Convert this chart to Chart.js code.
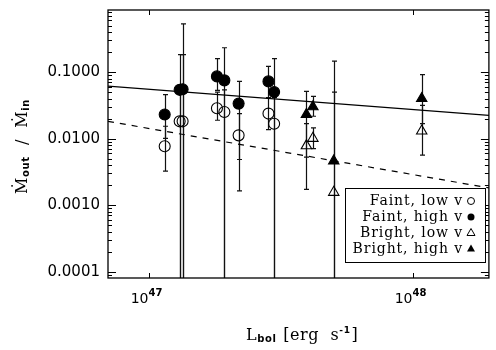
<!DOCTYPE html>
<html>
<head>
<meta charset="utf-8">
<script src="https://cdn.jsdelivr.net/npm/chart.js@4/dist/chart.umd.min.js"></script>
<style>
  html, body { margin: 0; padding: 0; background: #fff; }
</style>
</head>
<body>
<canvas id="chart" width="496" height="350"></canvas>
<script>
// axis ranges and ticks
const xRange = [7.03e46, 1.93e48];
const yRange = [8.05e-5, 0.857];
const xTicks = [1e47, 1e48];
const yTicks = [0.0001, 0.001, 0.01, 0.1];

// faint sources
const faintLum = [1.151e47, 1.311e47, 1.345e47, 1.813e47, 1.934e47, 2.189e47, 2.838e47, 2.981e47];
const faintHighV = [0.0230, 0.0541, 0.0552, 0.0862, 0.0751, 0.0336, 0.0725, 0.0501];
const faintHighHi = [0.0458, 0.1824, 0.5316, 0.1588, 0.2323, 0.0725, 0.1218, 0.1588];
const faintHighLo = [0.0101, 1e-6, 1e-6, 0.0532, 1e-6, 0.00486, 0.0413, 1e-6];
const faintLowV = [0.00769, 0.0182, 0.0182, 0.0286, 0.0251, 0.0112, 0.0238, 0.0167];
const faintLowHi = [0.01535, 0.0541, 0.1824, 0.0500, 0.0541, 0.0238, 0.0413, 0.0413];
const faintLowLo = [0.00325, 1e-6, 1e-6, 0.0189, 1e-6, 0.00164, 0.0137, 1e-6];

// bright sources
const brightLum = [3.948e47, 4.176e47, 5.007e47, 1.076e48];
const brightHighV = [0.0231, 0.0301, 0.00462, 0.0401];
const brightHighHi = [0.0514, 0.0432, 0.1463, 0.0914];
const brightHighLo = [0.00526, 0.0217, 1e-6, 0.0168];
const brightLowV = [0.00783, 0.0101, 0.00156, 0.0130];
const brightLowHi = [0.0168, 0.01447, 0.0501, 0.0317];
const brightLowLo = [0.001726, 0.0071, 1e-6, 0.00564];

// fitted relations
const fitLum = [7.03e46, 1.93e48];
const fitHigh = [0.0617, 0.02243];
const fitLow = [0.0182, 0.00182];

const legendLabels = ['Faint, low v', 'Faint, high v', 'Bright, low v', 'Bright, high v'];

function pts(xs, ys) {
    return xs.map((x, i) => ({x: x, y: ys[i]}));
}

function pointSet(xs, ys, lo, hi, style, filled, r) {
    return {
        data: pts(xs, ys),
        errLo: lo,
        errHi: hi,
        showLine: false,
        pointStyle: style,
        pointRadius: r,
        pointBorderWidth: 1.1,
        pointBorderColor: '#000',
        pointBackgroundColor: filled ? '#000' : 'rgba(0,0,0,0)'
    };
}

const serif = '"DejaVu Serif", "Liberation Serif", serif';
const sans = '"DejaVu Sans", sans-serif';

const errorBars = {
    id: 'errorBars',
    beforeDatasetsDraw(chart) {
        const ctx = chart.ctx, a = chart.chartArea;
        const xs = chart.scales.x, ys = chart.scales.y;
        ctx.save();
        ctx.beginPath();
        ctx.rect(a.left, a.top, a.right - a.left, a.bottom - a.top);
        ctx.clip();
        ctx.strokeStyle = '#111';
        ctx.lineWidth = 1.2;
        chart.data.datasets.forEach(ds => {
            if (!ds.errLo) return;
            ds.data.forEach((p, i) => {
                const px = Math.round(xs.getPixelForValue(p.x)) + 0.5;
                const top = ys.getPixelForValue(ds.errHi[i]);
                const bot = ys.getPixelForValue(ds.errLo[i]);
                ctx.beginPath();
                ctx.moveTo(px, top);
                ctx.lineTo(px, bot);
                ctx.moveTo(px - 2.5, top);
                ctx.lineTo(px + 2.5, top);
                ctx.moveTo(px - 2.5, bot);
                ctx.lineTo(px + 2.5, bot);
                ctx.stroke();
            });
        });
        ctx.restore();
    }
};

function drawMarker(ctx, kind, x, y) {
    ctx.beginPath();
    if (kind === 'circle') {
        ctx.arc(x, y, 3.5, 0, Math.PI * 2);
    } else {
        ctx.moveTo(x, y - 4.5);
        ctx.lineTo(x + 4, y + 2.5);
        ctx.lineTo(x - 4, y + 2.5);
        ctx.closePath();
    }
}

const decorations = {
    id: 'decorations',
    afterDraw(chart) {
        const ctx = chart.ctx, a = chart.chartArea;
        const xs = chart.scales.x, ys = chart.scales.y;
        ctx.save();
        ctx.strokeStyle = '#000';
        ctx.fillStyle = '#000';

        // frame
        ctx.lineWidth = 1.3;
        ctx.strokeRect(a.left, a.top, a.right - a.left, a.bottom - a.top);

        // y ticks, inward on both sides
        ctx.lineWidth = 1;
        const lo = Math.floor(Math.log10(yRange[0])), hi = Math.ceil(Math.log10(yRange[1]));
        for (let e = lo; e <= hi; e++) {
            for (let k = 1; k <= 9; k++) {
                const v = k * Math.pow(10, e);
                if (v < yRange[0] || v > yRange[1]) continue;
                const py = Math.round(ys.getPixelForValue(v)) + 0.5;
                const len = k === 1 ? 8 : 4;
                ctx.beginPath();
                ctx.moveTo(a.left, py); ctx.lineTo(a.left + len, py);
                ctx.moveTo(a.right, py); ctx.lineTo(a.right - len, py);
                ctx.stroke();
            }
        }

        // x ticks and labels
        xTicks.forEach(v => {
            const px = Math.round(xs.getPixelForValue(v)) + 0.5;
            ctx.beginPath();
            ctx.moveTo(px, a.bottom); ctx.lineTo(px, a.bottom - 5);
            ctx.moveTo(px, a.top); ctx.lineTo(px, a.top + 5);
            ctx.stroke();
            ctx.font = '14px ' + sans;
            ctx.textAlign = 'right';
            ctx.textBaseline = 'alphabetic';
            ctx.fillText('10', px - 1, 303);
            ctx.font = 'bold 10px ' + sans;
            ctx.textAlign = 'left';
            ctx.fillText(String(Math.round(Math.log10(v))), px - 1, 296);
        });

        // x title
        ctx.textAlign = 'left';
        ctx.letterSpacing = '0.6px';
        let cx = 246;
        ctx.font = '16px ' + serif;
        ctx.fillText('L', cx, 340); cx += ctx.measureText('L').width;
        ctx.font = 'bold 10px ' + sans;
        ctx.fillText('bol', cx, 342); cx += ctx.measureText('bol').width + 1;
        ctx.font = '16px ' + serif;
        ctx.fillText(' [erg  s', cx, 340); cx += ctx.measureText(' [erg  s').width;
        ctx.font = 'bold 9px ' + sans;
        ctx.fillText('-1', cx, 333); cx += ctx.measureText('-1').width;
        ctx.font = '16px ' + serif;
        ctx.fillText(']', cx + 1, 340);

        // y title, rotated
        ctx.save();
        ctx.translate(27, 194);
        ctx.rotate(-Math.PI / 2);
        let ty = 0;
        const part = (txt, font, dy) => {
            ctx.font = font;
            ctx.fillText(txt, ty, dy);
            ty += ctx.measureText(txt).width;
        };
        part('\u1E40', '16px ' + serif, 0);
        part('out', 'bold 10px ' + sans, 2);
        part('  /  ', '16px ' + serif, 0);
        part('\u1E40', '16px ' + serif, 0);
        part('in', 'bold 10px ' + sans, 2);
        ctx.restore();

        // legend
        const bx = 345, by = 188, bw = 140, bh = 74;
        ctx.fillStyle = '#fff';
        ctx.fillRect(bx, by, bw, bh);
        ctx.lineWidth = 1;
        ctx.strokeRect(bx + 0.5, by + 0.5, bw, bh);
        ctx.fillStyle = '#000';
        ctx.font = '14px ' + serif;
        ctx.letterSpacing = '0.9px';
        ctx.textAlign = 'right';
        ctx.textBaseline = 'middle';
        const kinds = [['circle', false], ['circle', true], ['triangle', false], ['triangle', true]];
        legendLabels.forEach((lab, i) => {
            const ly = 201 + i * 16;
            ctx.fillText(lab, 463, ly);
            drawMarker(ctx, kinds[i][0], 471, ly);
            if (kinds[i][1]) ctx.fill(); else ctx.stroke();
        });
        ctx.restore();
    }
};

new Chart(document.getElementById('chart'), {
    type: 'scatter',
    data: {
        datasets: [
            {
                data: pts(fitLum, fitHigh),
                showLine: true,
                borderColor: '#000',
                borderWidth: 1.2,
                pointRadius: 0
            },
            {
                data: pts(fitLum, fitLow),
                showLine: true,
                borderColor: '#000',
                borderWidth: 1.2,
                borderDash: [6, 6],
                pointRadius: 0
            },
            pointSet(faintLum, faintLowV, faintLowLo, faintLowHi, 'circle', false, 5.5),
            pointSet(faintLum, faintHighV, faintHighLo, faintHighHi, 'circle', true, 5.5),
            pointSet(brightLum, brightLowV, brightLowLo, brightLowHi, 'triangle', false, 6),
            pointSet(brightLum, brightHighV, brightHighLo, brightHighHi, 'triangle', true, 6)
        ]
    },
    options: {
        responsive: false,
        animation: false,
        devicePixelRatio: 1,
        layout: {padding: {top: 10, right: 5, left: 0, bottom: 0}},
        plugins: {
            legend: {display: false},
            tooltip: {enabled: false}
        },
        scales: {
            x: {
                type: 'logarithmic',
                min: xRange[0],
                max: xRange[1],
                grid: {display: false, drawTicks: false},
                border: {display: false},
                ticks: {display: false},
                afterBuildTicks: s => { s.ticks = xTicks.map(v => ({value: v})); },
                afterFit: s => { s.height = 72; s.paddingLeft = 0; s.paddingRight = 0; }
            },
            y: {
                type: 'logarithmic',
                min: yRange[0],
                max: yRange[1],
                grid: {display: false, drawTicks: false},
                border: {display: false},
                ticks: {
                    padding: 8,
                    color: '#000',
                    font: {family: 'DejaVu Sans', size: 15},
                    callback: v => Number(v).toFixed(4)
                },
                afterBuildTicks: s => { s.ticks = yTicks.map(v => ({value: v})); },
                afterFit: s => { s.width = 108; s.paddingTop = 0; s.paddingBottom = 0; }
            }
        }
    },
    plugins: [errorBars, decorations]
});
</script>
</body>
</html>
